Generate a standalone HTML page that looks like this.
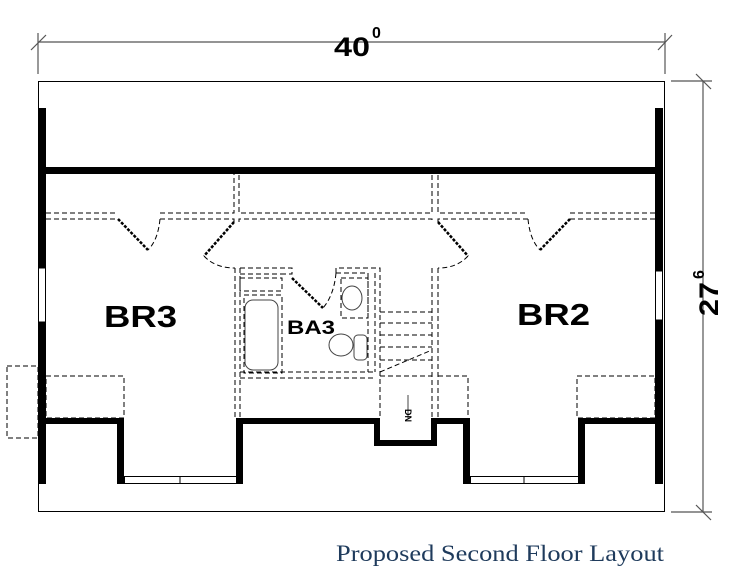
<!DOCTYPE html>
<html><head><style>body{margin:0;background:#fff}svg{display:block}</style></head><body>
<svg width="743" height="581" viewBox="0 0 743 581" xmlns="http://www.w3.org/2000/svg" font-family="Liberation Sans, sans-serif">
<g stroke="#555" stroke-width="1.2" fill="none">
<line x1="38" y1="42" x2="665" y2="42"/><line x1="38" y1="33" x2="38" y2="74"/><line x1="665" y1="33" x2="665" y2="74"/>
<line x1="31" y1="50" x2="46" y2="35"/><line x1="658" y1="50" x2="672" y2="35"/>
<line x1="703" y1="81" x2="703" y2="512"/><line x1="671" y1="81" x2="712" y2="81"/><line x1="671" y1="512" x2="712" y2="512"/>
<line x1="696" y1="74" x2="711" y2="89"/><line x1="696" y1="505" x2="711" y2="520"/>
</g>
<rect x="38.5" y="81.5" width="626" height="430" fill="none" stroke="#000" stroke-width="1"/>
<g fill="#000">
<rect x="38" y="108" width="8" height="160"/><rect x="38" y="322" width="8" height="162"/>
<rect x="655" y="108" width="8" height="163"/><rect x="655" y="320" width="8" height="164"/>
<rect x="46" y="167" width="609" height="7"/>
<rect x="46" y="418" width="78" height="6"/><rect x="117" y="418" width="7" height="66"/>
<rect x="236" y="418" width="7" height="66"/><rect x="236" y="418" width="144" height="6"/>
<rect x="374" y="418" width="6" height="28"/><rect x="374" y="440" width="63" height="6"/>
<rect x="431" y="418" width="6" height="28"/><rect x="431" y="418" width="39" height="6"/>
<rect x="463" y="418" width="7" height="66"/><rect x="578" y="418" width="7" height="66"/><rect x="578" y="418" width="77" height="6"/>
</g>
<g fill="none" stroke="#000" stroke-width="1">
<rect x="124.5" y="476.5" width="112" height="7"/><line x1="180" y1="476" x2="180" y2="484"/>
<rect x="470.5" y="476.5" width="108" height="7"/><line x1="524" y1="476" x2="524" y2="484"/>
<rect x="38.5" y="268" width="7" height="54"/><rect x="655.5" y="271" width="7" height="49"/>
</g>
<g fill="none" stroke="#000" stroke-width="1" stroke-dasharray="5,3">
<path d="M46 213H118M160 213H234V167M239 167V213H432V167M438 167V213H528M570 213H655"/>
<path d="M46 219H118M160 219H234V222M239 222V219H432V222M438 222V219H528M570 219H655"/>
<path d="M160 219Q158 240 148 250"/><path d="M528 219Q530 240 540 250"/>
<path d="M204 256Q215 268 235 268"/><path d="M468 256Q457 268 438 268"/>
<path d="M235 268V418M240 268V418M240 268H292V274H283M240 274H283"/>
<path d="M336 273V268H380V418M336 273H368V372M375 273V372M341 278H368V318H341Z"/>
<path d="M336 273Q334 295 323 308"/>
<rect x="240" y="278" width="42" height="13"/><rect x="244" y="295" width="38" height="78"/>
<path d="M240 372H375M240 378H375M380 312H432M380 323H432M380 335H432M380 347H432M380 360H432M380 376H432"/>
<path d="M380 372L432 350"/>
<path d="M432 268V418M438 268V418M438 376H468V418"/>
<rect x="46" y="376" width="78" height="42"/><rect x="7" y="366" width="31" height="72"/>
<rect x="577" y="376" width="78" height="42"/>
</g>
<g stroke="#000" stroke-width="2.5" stroke-dasharray="3,1.5" fill="none">
<line x1="118" y1="219" x2="148" y2="250"/><line x1="570" y1="219" x2="540" y2="250"/>
<line x1="234" y1="222" x2="204" y2="256"/><line x1="438" y1="222" x2="468" y2="256"/>
<line x1="292" y1="278" x2="323" y2="308"/>
</g>
<g fill="none" stroke="#444" stroke-width="1">
<rect x="245" y="300" width="33" height="70" rx="8"/>
<ellipse cx="352" cy="298" rx="10" ry="12"/>
<ellipse cx="341" cy="345" rx="12" ry="11"/><rect x="354" y="335" width="13" height="25" rx="4"/>
<line x1="408" y1="395" x2="408" y2="418"/>
</g>
<g font-weight="bold" fill="#000">
<text x="104" y="327" font-size="31" textLength="73" lengthAdjust="spacingAndGlyphs">BR3</text>
<text x="517" y="325" font-size="31" textLength="73" lengthAdjust="spacingAndGlyphs">BR2</text>
<text x="287" y="334" font-size="19" textLength="48" lengthAdjust="spacingAndGlyphs">BA3</text>
<text x="334" y="56" font-size="27" textLength="36" lengthAdjust="spacingAndGlyphs">40</text><text x="372" y="38" font-size="16">0</text>
<text transform="translate(405,409) rotate(90)" font-size="9">DN</text>
<text transform="translate(718,316) rotate(-90)" font-size="27" textLength="34" lengthAdjust="spacingAndGlyphs">27</text>
<text transform="translate(704,279) rotate(-90)" font-size="16">6</text>
</g>
<text x="336" y="561" font-size="23" font-family="Liberation Serif, serif" fill="#1f3b5c" textLength="328" lengthAdjust="spacingAndGlyphs">Proposed Second Floor Layout</text>
</svg>
</body></html>
